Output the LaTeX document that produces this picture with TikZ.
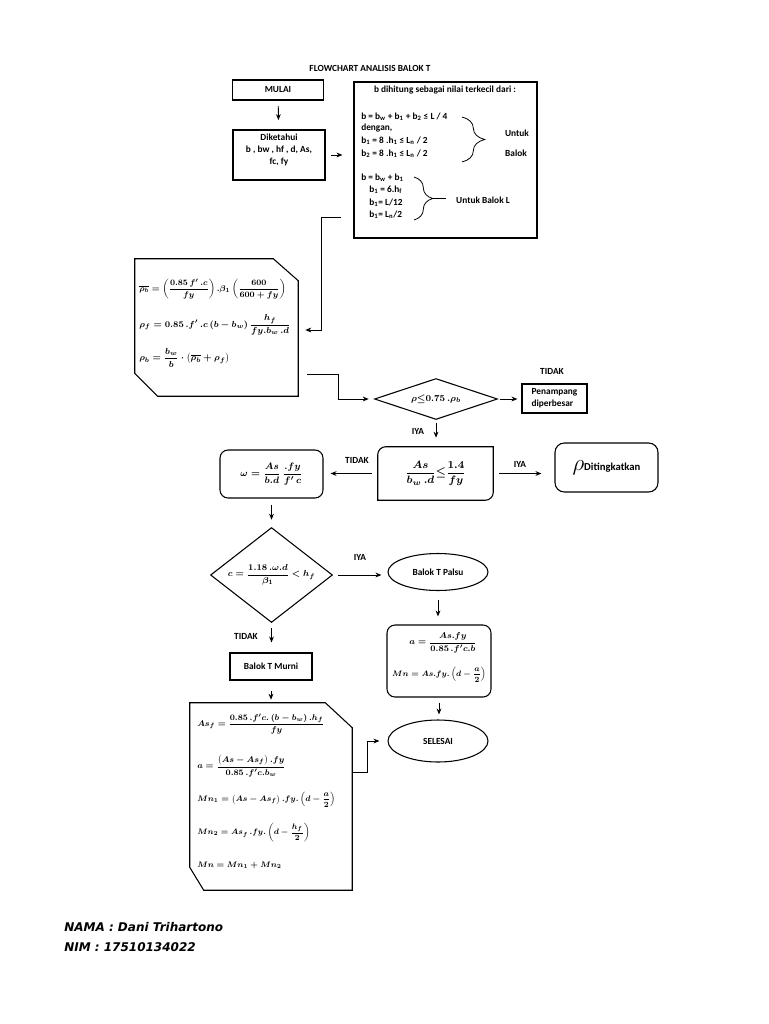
\documentclass[tikz,border=0pt]{standalone}
\usepackage{amsmath}
\usepackage{graphicx}
\usepackage[no-math]{fontspec}
\usetikzlibrary{arrows.meta,decorations.pathreplacing,calc,shapes.geometric}
\newfontfamily\labfont{Carlito}
\newfontfamily\footfont{DejaVu Sans}
\newcommand{\fmx}[2]{\scalebox{#1}{$\displaystyle #2$}}
\begin{document}
\begin{tikzpicture}[x=0.75pt,y=-0.75pt,
  lab/.style={font=\labfont\bfseries\fontsize{7}{9}\selectfont, inner sep=0pt},
  mth/.style={font=\fontsize{8}{9}\selectfont\boldmath, inner sep=0pt},
  foot/.style={font=\footfont\bfseries\itshape\fontsize{9}{11}\selectfont, inner sep=0pt},
  sz/.style 2 args={minimum width=#1*0.75pt, minimum height=#2*0.75pt, inner sep=0pt},
  box/.style={draw, line width=0.8pt},
  rbox/.style={draw, line width=0.8pt, rounded corners=6pt},
  shp/.style={draw, line width=0.8pt},
  arr/.style={-{Stealth[length=4.5pt,width=3.6pt]}, line width=0.7pt},
  brc/.style={decorate, line width=0.6pt, decoration={brace, amplitude=#1}},
]
\fill[white] (0,0) rectangle (768,1024);
\path[use as bounding box] (0,0) rectangle (768,1024);

% title
\node[lab] (title) at (370,68) {FLOWCHART ANALISIS BALOK T};

% start and data
\node[box,lab,sz={91}{20}] (mulai) at (278,90) {MULAI};
\node[box,sz={92}{50}] (dik) at (279,155) {};
\node[lab,align=center] (dikt) at (279,149.5) {Diketahui\\ b , bw , hf , d, As,\\ fc, fy};

% big box
\node[box,sz={183}{156}] (big) at (445.5,160) {};
\node[lab] (bt) at (445,90) {b dihitung sebagai nilai terkecil dari :};
\node[lab,anchor=west] (l1) at (361,117) {b = b\textsubscript{w} + b\textsubscript{1} + b\textsubscript{2} ≤ L / 4};
\node[lab,anchor=west] (l2) at (361,128) {dengan,};
\node[lab,anchor=west] (l3) at (361,141) {b\textsubscript{1} = 8 .h\textsubscript{1} ≤ L\textsubscript{n} / 2};
\node[lab,anchor=west] (l4) at (361,154) {b\textsubscript{2} = 8 .h\textsubscript{1} ≤ L\textsubscript{n} / 2};
\draw[brc=17pt] (462,117) -- (462,162);
\node[lab] (u1) at (517,133) {Untuk};
\node[lab] (u2) at (516,153) {Balok};
\node[lab,anchor=west] (k1) at (361,178) {b = b\textsubscript{w} + b\textsubscript{1}};
\node[lab,anchor=west] (k2) at (369,190) {b\textsubscript{1} = 6.h\textsubscript{f}};
\node[lab,anchor=west] (k3) at (369,203) {b\textsubscript{1}= L/12};
\node[lab,anchor=west] (k4) at (369,215) {b\textsubscript{1}= L\textsubscript{n}/2};
\draw[brc=14pt] (414,177) -- (414,220);
\draw[line width=0.6pt] (433,198.5) -- (446,198.5);
\node[lab] (ubl) at (483,200) {Untuk Balok L};

% formula box 1
\node[sz={163}{137}] (f1) at (216.5,327.5) {};
\draw[shp] (f1.north west) -- ($(f1.north east)+(-25,0)$) -- ($(f1.north east)+(0,22)$) -- (f1.south east) -- ($(f1.south west)+(23,0)$) -- ($(f1.south west)+(0,-23)$) -- cycle;
\node[mth,anchor=west] (r1) at (139,289) {\fmx{0.77}{\overline{\rho_{b}}=\left(\dfrac{0.85\,f'\,.c}{fy}\right).\beta_{1}\left(\dfrac{600}{600+fy}\right)}};
\node[mth,anchor=west] (r2) at (139,325) {\fmx{0.82}{\rho_{f}=0.85\,.f'\,.c\left(b-b_{w}\right)\dfrac{h_{f}}{fy.b_{w}\,.d}}};
\node[mth,anchor=west] (r3) at (139,358) {\fmx{0.82}{\rho_{b}=\dfrac{b_{w}}{b}\cdot\left(\overline{\rho_{b}}+\rho_{f}\right)}};

% diamond 1
\node[sz={122}{40},mth] (d1) at (436,399) {\fmx{0.85}{\rho{\le}0.75\,.\rho_{b}}};
\draw[shp] (d1.north) -- (d1.east) -- (d1.south) -- (d1.west) -- cycle;
\node[box,lab,sz={65}{29},align=left] (pen) at (554.5,398.5) {Penampang\\diperbesar};

% As check
\node[sz={115}{53},mth] (as) at (435.5,473.5) {\fmx{1}{\dfrac{As}{b_{w}\,.d}{\le}\dfrac{1.4}{fy}}};
\draw[shp] ($(as.north west)+(8,0)$) -- (as.north east) -- ($(as.south east)+(0,-8)$) arc[start angle=0,end angle=-90,radius=6pt] -- (as.south west) -- ($(as.north west)+(0,8)$) arc[start angle=180,end angle=90,radius=6pt];

\node[rbox,sz={103}{48},mth] (om) at (271.5,474) {\fmx{0.88}{\omega=\dfrac{As}{b.d}\,\dfrac{.fy}{f'\,c}}};
\node[rbox,sz={103}{49},rounded corners=7pt] (rho) at (606.5,467.5) {\fontsize{17}{17}\selectfont$\rho$\labfont\bfseries\fontsize{8}{9}\selectfont Ditingkatkan};

% diamond 2
\node[sz={121}{94},mth] (d2) at (271.5,575) {\fmx{0.82}{c=\dfrac{1.18\,.\omega.d}{\beta_{1}}<h_{f}}};
\draw[shp] (d2.north) -- (d2.east) -- (d2.south) -- (d2.west) -- cycle;

\node[draw,ellipse,line width=0.8pt,lab,sz={100}{37}] (palsu) at (438,572) {Balok T Palsu};
\node[rbox,sz={104}{72}] (ba) at (439,661) {};
\node[mth] (ba1) at (443,643) {\fmx{0.8}{a=\dfrac{As.fy}{0.85\,.f'c.b}}};
\node[mth] (ba2) at (439,675) {\fmx{0.74}{Mn=As.fy.\left(d-\dfrac{a}{2}\right)}};
\node[draw,ellipse,line width=0.8pt,lab,sz={100}{42}] (sel) at (438,741) {SELESAI};

\node[box,lab,sz={82}{27}] (murni) at (271,666.5) {Balok T Murni};

% formula box 2
\node[sz={162}{187}] (f2) at (271,796.5) {};
\draw[shp] (f2.north west) -- ($(f2.north east)+(-27,0)$) -- ($(f2.north east)+(0,25)$) -- (f2.south east) -- ($(f2.south west)+(14,0)$) -- ($(f2.south west)+(0,-23)$) -- cycle;
\node[mth,anchor=west] (m1) at (197,724) {\fmx{0.78}{As_{f}=\dfrac{0.85\,.f'c.\left(b-b_{w}\right).h_{f}}{fy}}};
\node[mth,anchor=west] (m2) at (197,766) {\fmx{0.78}{a=\dfrac{\left(As-As_{f}\right).fy}{0.85\,.f'c.b_{w}}}};
\node[mth,anchor=west] (m3) at (197,800) {\fmx{0.75}{Mn_{1}=\left(As-As_{f}\right).fy.\left(d-\dfrac{a}{2}\right)}};
\node[mth,anchor=west] (m4) at (197,833) {\fmx{0.74}{Mn_{2}=As_{f}\,.fy.\left(d-\dfrac{h_{f}}{2}\right)}};
\node[mth,anchor=west] (m5) at (197,865) {\fmx{0.75}{Mn=Mn_{1}+Mn_{2}}};

% labels
\node[lab] (t1) at (552,371) {TIDAK};
\node[lab] (y1) at (418,431) {IYA};
\node[lab] (t2) at (357,460) {TIDAK};
\node[lab] (y2) at (520,464) {IYA};
\node[lab] (y3) at (360,557) {IYA};
\node[lab] (t3) at (246,636) {TIDAK};

% connectors
\draw[arr, shorten <=4pt, shorten >=7pt] (mulai) -- (dik);
\draw[arr, shorten <=3.75pt, shorten >=8.25pt] (dik.east) -- (dik.east -| big.west);
\draw[arr] ($(big.south west)+(-12,-21)$) -- ++(-20,0) |- ($(f1.east)+(7,2.5)$);
\draw[arr] ($(f1.south east)+(9,-22)$) -- ++(31,0) |- ($(d1.west)+(-6,0)$);
\draw[arr, shorten <=2pt, shorten >=3pt] (d1.east) -- (d1.east -| pen.west);
\draw[arr, shorten <=3pt, shorten >=6.75pt] (d1.south) -- (d1.south |- as.north);
\draw[arr, shorten <=4.5pt, shorten >=5.25pt] (as.west) -- (as.west -| om.east);
\draw[arr, shorten <=4.5pt, shorten >=9.75pt] (as.east) -- (as.east -| rho.west);
\draw[arr, shorten <=5pt, shorten >=6pt] (om.south) -- (om.south |- d2.north);
\draw[arr, shorten <=4.5pt, shorten >=4.5pt] (d2.east) -- (d2.east -| palsu.west);
\draw[arr, shorten <=4pt, shorten >=7.5pt] (d2.south) -- (d2.south |- murni.north);
\draw[arr, shorten <=7pt, shorten >=6pt] (palsu.south) -- (palsu.south |- ba.north);
\draw[arr, shorten <=3.75pt, shorten >=3.75pt] (ba.south) -- (ba.south |- sel.north);
\draw[arr, shorten <=7.5pt, shorten >=2.25pt] (murni.south) -- (murni.south |- f2.north);
\draw[arr] ($(f2.east)+(0,-24.5)$) -- ++(15,0) |- ($(sel.west)+(-8,0)$);

% footer
\node[foot,anchor=west] (nama) at (64,927) {NAMA : Dani Trihartono};
\node[foot,anchor=west] (nim) at (64,947) {NIM : 17510134022};
\end{tikzpicture}
\end{document}
